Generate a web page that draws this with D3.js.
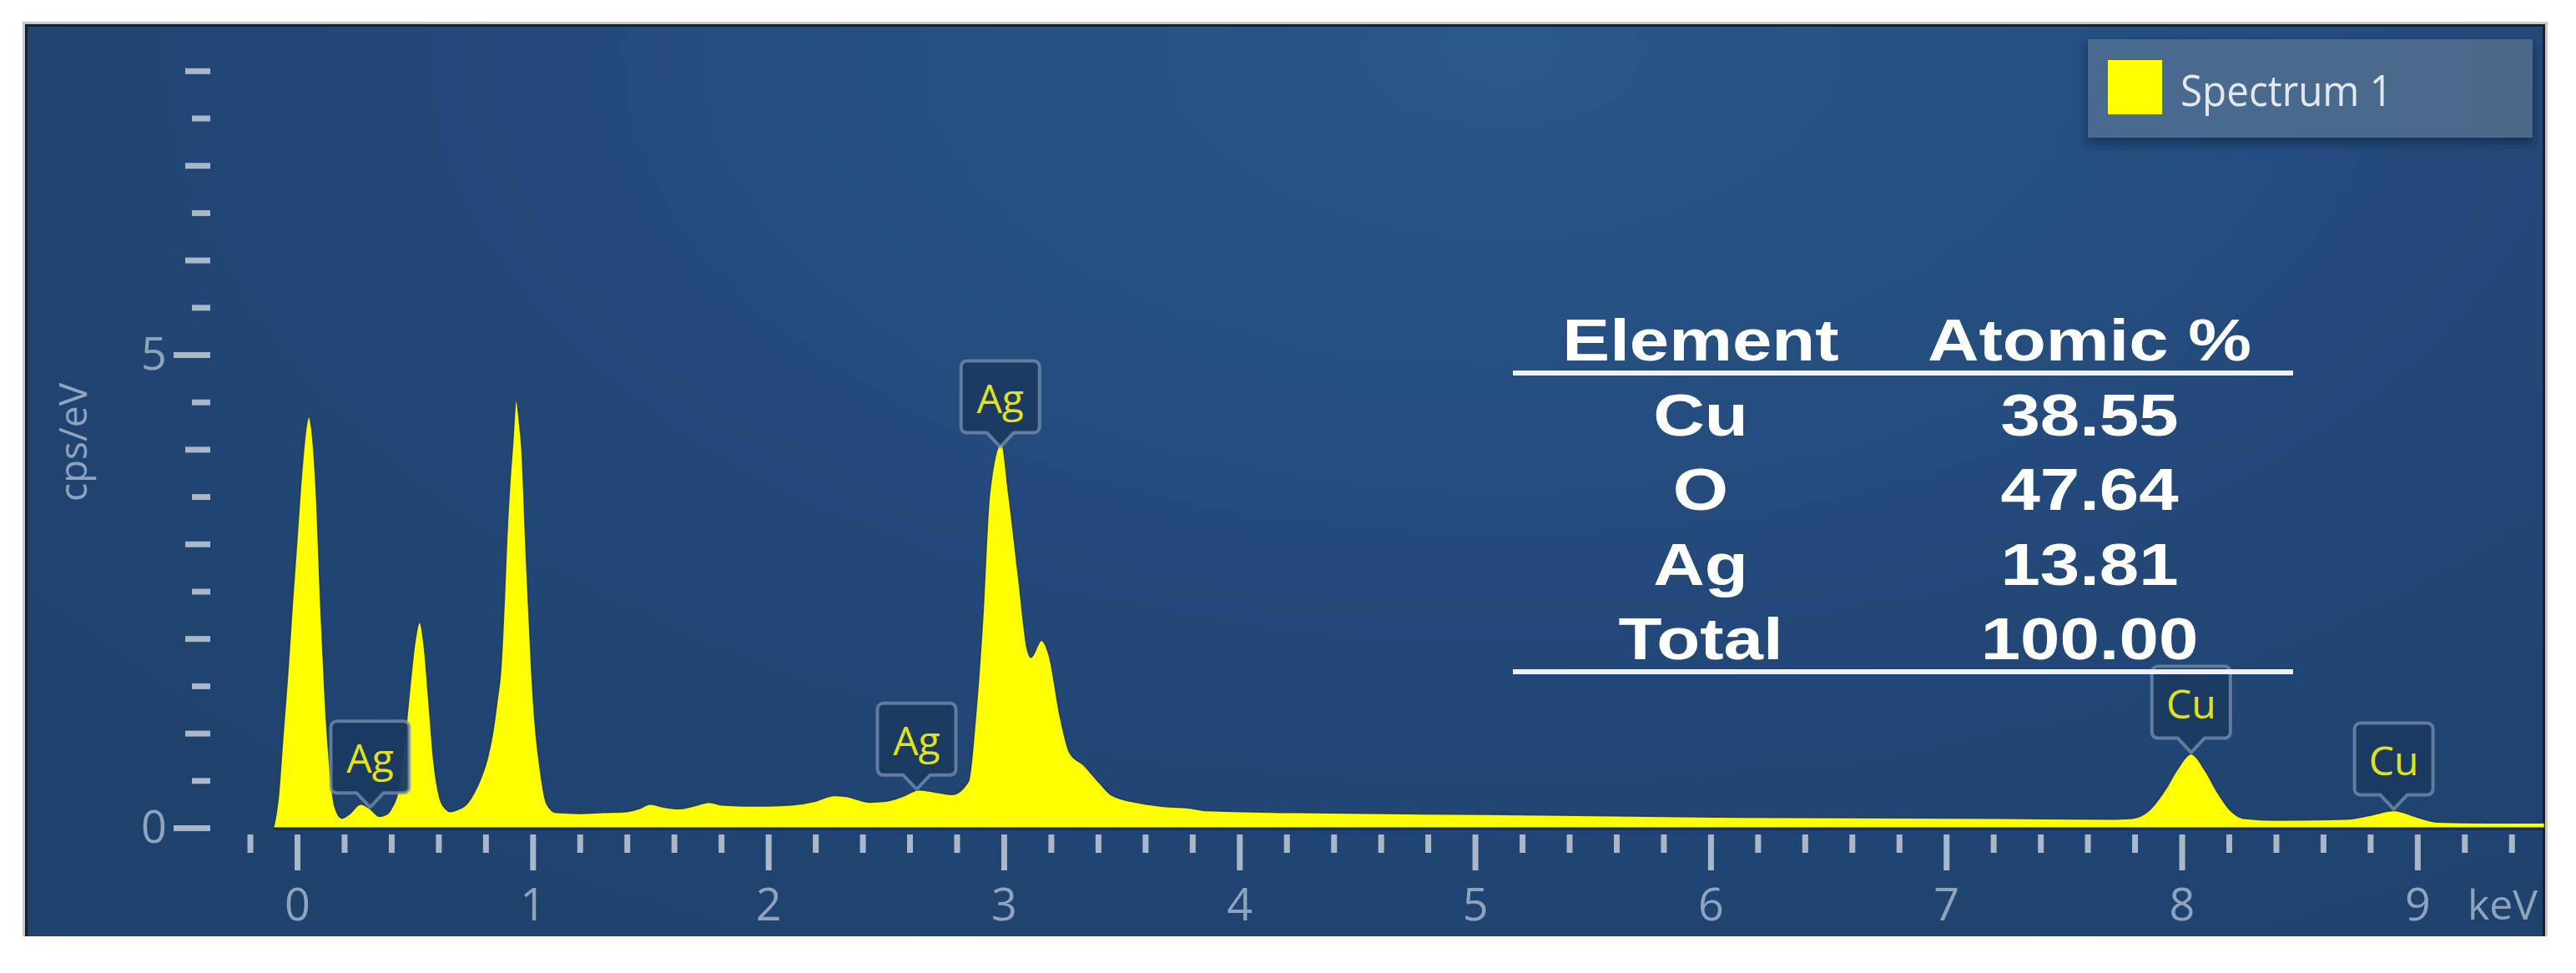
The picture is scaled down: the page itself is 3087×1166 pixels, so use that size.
<!DOCTYPE html>
<html><head><meta charset="utf-8">
<script src="https://cdn.jsdelivr.net/npm/d3@7"></script>
<style>html,body{margin:0;padding:0;background:#fff;} svg{display:block;}</style>
</head><body>
<svg id="chart" width="3087" height="1166"></svg>
<script>
// ---------- DATA ----------
const energy = [-0.10,-0.08,-0.06,-0.04,-0.02,0.00,0.02,0.04,0.05,0.06,0.08,0.10,0.12,0.14,0.16,0.19,0.22,0.27,0.31,0.35,0.38,0.40,0.43,0.46,0.48,0.50,0.52,0.54,0.56,0.58,0.605,0.63,0.65,0.68,0.72,0.75,0.78,0.81,0.83,0.85,0.865,0.88,0.89,0.905,0.915,0.93,0.945,0.953,0.97,0.995,1.01,1.03,1.06,1.10,1.20,1.30,1.40,1.45,1.50,1.55,1.62,1.70,1.75,1.80,1.90,2.00,2.10,2.20,2.28,2.33,2.43,2.50,2.57,2.64,2.70,2.78,2.85,2.88,2.91,2.94,2.99,3.02,3.06,3.10,3.115,3.16,3.19,3.24,3.28,3.34,3.40,3.46,3.58,3.70,3.78,3.86,4.24,5.05,6.14,7.22,7.70,7.79,7.86,7.93,7.98,8.04,8.10,8.15,8.20,8.26,8.40,8.70,8.80,8.90,9.00,9.08,9.30,9.54];
const counts = [0.00,0.30,0.95,1.60,2.35,3.05,3.75,4.25,4.34,4.25,3.60,2.35,1.30,0.60,0.22,0.10,0.14,0.25,0.20,0.12,0.14,0.20,0.40,0.99,1.50,1.95,2.17,1.90,1.30,0.70,0.32,0.20,0.17,0.19,0.25,0.36,0.52,0.75,0.99,1.35,1.67,2.40,3.02,3.70,4.03,4.51,4.25,4.03,3.02,1.67,1.10,0.65,0.25,0.16,0.15,0.16,0.17,0.20,0.25,0.22,0.20,0.24,0.27,0.24,0.23,0.23,0.24,0.28,0.34,0.33,0.27,0.28,0.33,0.40,0.38,0.35,0.49,1.16,2.18,3.53,4.06,3.53,2.69,1.88,1.80,1.98,1.84,1.16,0.79,0.66,0.49,0.34,0.26,0.22,0.21,0.18,0.16,0.14,0.11,0.10,0.09,0.10,0.18,0.40,0.61,0.78,0.60,0.38,0.20,0.10,0.08,0.09,0.13,0.18,0.11,0.06,0.05,0.05];

const peakElements = ["Ag","Ag","Ag","Cu","Cu"];
const peakEnergies = [0.31, 2.63, 2.985, 8.04, 8.90];

const tableHeaders = ["Element","Atomic %"];
const tableElements = ["Cu","O","Ag","Total"];
const tableAtomic = ["38.55","47.64","13.81","100.00"];

const xTickLabels = ["0","1","2","3","4","5","6","7","8","9"];
const yTickLabels = ["0","5"];
const xUnit = "keV";
const yUnit = "cps/eV";
const legendLabel = "Spectrum 1";

// ---------- LAYOUT ----------
const svg = d3.select("#chart");
const panel = {x0: 30, y0: 29, x1: 3050, y1: 1122};

const x = d3.scaleLinear().domain([-0.3, 9.54]).range([271.3, 3049.3]);
const y = d3.scaleLinear().domain([0, 8]).range([992, 992 - 8*113.4]);

const defs = svg.append("defs");
const bg = defs.append("radialGradient").attr("id","bg")
  .attr("gradientUnits","userSpaceOnUse")
  .attr("cx", 1800).attr("cy", 60).attr("r", 2200)
  .attr("gradientTransform","translate(1800,60) scale(1,0.55) translate(-1800,-60)");
bg.append("stop").attr("offset",0).attr("stop-color","#29588a");
bg.append("stop").attr("offset",0.55).attr("stop-color","#23497a");
bg.append("stop").attr("offset",1).attr("stop-color","#1f426d");

const lg = defs.append("linearGradient").attr("id","legbg").attr("x1",0).attr("x2",1).attr("y1",0).attr("y2",0);
lg.append("stop").attr("offset",0).attr("stop-color","#4a6b90");
lg.append("stop").attr("offset",1).attr("stop-color","#4b6889");

const sh = defs.append("filter").attr("id","shadow").attr("x","-10%").attr("y","-20%").attr("width","120%").attr("height","160%");
sh.append("feDropShadow").attr("dx",0).attr("dy",6).attr("stdDeviation",6).attr("flood-color","#0d2240").attr("flood-opacity",0.7);

// panel shadow + border
svg.append("rect").attr("x", panel.x0-3).attr("y", panel.y0-3).attr("width", panel.x1-panel.x0+6).attr("height", panel.y1-panel.y0+3).attr("fill","#c9c9c9");
svg.append("rect").attr("x", panel.x0).attr("y", panel.y0).attr("width", panel.x1-panel.x0).attr("height", panel.y1-panel.y0).attr("fill","#1a2028");
svg.append("rect").attr("x", panel.x0+3).attr("y", panel.y0+3).attr("width", panel.x1-panel.x0-6).attr("height", panel.y1-panel.y0-3).attr("fill","url(#bg)");

// ---------- SPECTRUM ----------
const data = energy.map((e,i)=>({e, v: counts[i]}));
const area = d3.area().x(d=>x(d.e)).y0(y(0)).y1(d=>y(d.v)).curve(d3.curveMonotoneX);
svg.append("path").datum(data).attr("d", area)
  .attr("fill","#ffff00").attr("stroke","#173259").attr("stroke-width",1.5).attr("stroke-opacity",0.8).attr("stroke-linejoin","round");
svg.append("line").attr("x1", x(energy[0])).attr("x2", panel.x1-3).attr("y1", y(0)+1.5).attr("y2", y(0)+1.5)
  .attr("stroke","#163058").attr("stroke-width",3);

// ---------- AXES ----------
const tickColor = "#a9b7c9", labelColor = "#8ea3bc";
const font = "'Open Sans', 'Noto Sans', sans-serif";

const xMinor = d3.range(-0.2, 9.5, 0.2).map(v=>+v.toFixed(2)).filter(v=>Math.abs(v-Math.round(v))>1e-6);
const xMajor = xTickLabels.map(Number);

function styleAxis(g){
  g.select(".domain").remove();
  g.selectAll(".tick line").attr("stroke", tickColor).attr("stroke-width", 7);
  g.selectAll(".tick text").attr("fill", labelColor).attr("font-family", font).attr("font-size", 54);
}
svg.append("g").attr("transform","translate(0,1000)")
  .call(d3.axisBottom(x).tickValues(xMinor).tickSize(22).tickFormat(""))
  .call(styleAxis);
svg.append("g").attr("transform","translate(0,1000)")
  .call(d3.axisBottom(x).tickValues(xMajor).tickSize(43).tickPadding(22).tickFormat((d,i)=>xTickLabels[i]))
  .call(styleAxis);

const yHalf = d3.range(0.5, 8, 1);
const yLabelVals = yTickLabels.map(Number);
const yInt = d3.range(1, 9).filter(v=>!yLabelVals.includes(v));
svg.append("g").attr("transform","translate(252,0)")
  .call(d3.axisLeft(y).tickValues(yHalf).tickSize(22).tickFormat(""))
  .call(styleAxis);
svg.append("g").attr("transform","translate(252,0)")
  .call(d3.axisLeft(y).tickValues(yInt).tickSize(30).tickFormat(""))
  .call(styleAxis);
svg.append("g").attr("transform","translate(252,0)")
  .call(d3.axisLeft(y).tickValues(yLabelVals).tickSize(44).tickPadding(8).tickFormat((d,i)=>yTickLabels[i]))
  .call(styleAxis);

svg.append("text").attr("x", 2957).attr("y", 1102).text(xUnit)
  .attr("fill", labelColor).attr("font-family", font).attr("font-size", 50);
svg.append("text").attr("transform","translate(104,530) rotate(-90)").attr("text-anchor","middle").text(yUnit)
  .attr("fill", labelColor).attr("font-family", font).attr("font-size", 46);

// ---------- PEAK LABELS ----------
function valueAt(e){
  const i = d3.bisector(d=>d).right(energy, e);
  if (i<=0) return counts[0];
  if (i>=energy.length) return counts[counts.length-1];
  const t = (e-energy[i-1])/(energy[i]-energy[i-1]);
  return counts[i-1] + t*(counts[i]-counts[i-1]);
}
const bw = 94, bh = 86, pw = 16, ph = 17, rr = 7;
peakElements.forEach((el, i)=>{
  const cx = x(peakEnergies[i]);
  const tip = y(valueAt(peakEnergies[i])) - 2;
  const bot = tip - ph, top = bot - bh, l = cx - bw/2, r = cx + bw/2;
  const p = d3.path();
  p.moveTo(l+rr, top); p.lineTo(r-rr, top); p.arcTo(r, top, r, top+rr, rr);
  p.lineTo(r, bot-rr); p.arcTo(r, bot, r-rr, bot, rr);
  p.lineTo(cx+pw, bot); p.lineTo(cx, tip); p.lineTo(cx-pw, bot);
  p.lineTo(l+rr, bot); p.arcTo(l, bot, l, bot-rr, rr);
  p.lineTo(l, top+rr); p.arcTo(l, top, l+rr, top, rr); p.closePath();
  svg.append("path").attr("d", p.toString()).attr("fill","#1b3a62").attr("fill-opacity",0.96)
    .attr("stroke","#7d96b5").attr("stroke-opacity",0.7).attr("stroke-width",4).attr("stroke-linejoin","round");
  svg.append("text").attr("x", cx).attr("y", bot-24).attr("text-anchor","middle").text(el)
    .attr("fill","#e2e21c").attr("font-family", font).attr("font-size", 48);
});

// ---------- TABLE ----------
const colX = [2038, 2504];
const tfont = "'Liberation Sans', Arial, sans-serif";
function ttext(str, cx, by){
  svg.append("text").attr("transform",`translate(${cx},${by}) scale(1.2,1)`).attr("text-anchor","middle")
    .text(str).attr("fill","#ffffff").attr("font-family", tfont).attr("font-weight","bold").attr("font-size", 71);
}
tableHeaders.forEach((h,i)=>ttext(h, colX[i], 432));
svg.append("rect").attr("x",1813).attr("y",444).attr("width",935).attr("height",6).attr("fill","#eef2f7");
const rowY = d3.scalePoint().domain(tableElements).range([522, 790]);
tableElements.forEach((el,i)=>{ ttext(el, colX[0], rowY(el)); ttext(tableAtomic[i], colX[1], rowY(el)); });
svg.append("rect").attr("x",1813).attr("y",802).attr("width",935).attr("height",6).attr("fill","#eef2f7");

// ---------- LEGEND ----------
svg.append("rect").attr("x",2502).attr("y",47).attr("width",533).attr("height",118).attr("fill","url(#legbg)").attr("filter","url(#shadow)");
svg.append("rect").attr("x",2526).attr("y",72).attr("width",65).attr("height",65).attr("fill","#ffff00");
svg.append("text").attr("x",2613).attr("y",127).text(legendLabel).attr("fill","#e3e8ef")
  .attr("font-family", font).attr("font-size", 52).attr("textLength", 254).attr("lengthAdjust","spacingAndGlyphs");
</script>
</body></html>
